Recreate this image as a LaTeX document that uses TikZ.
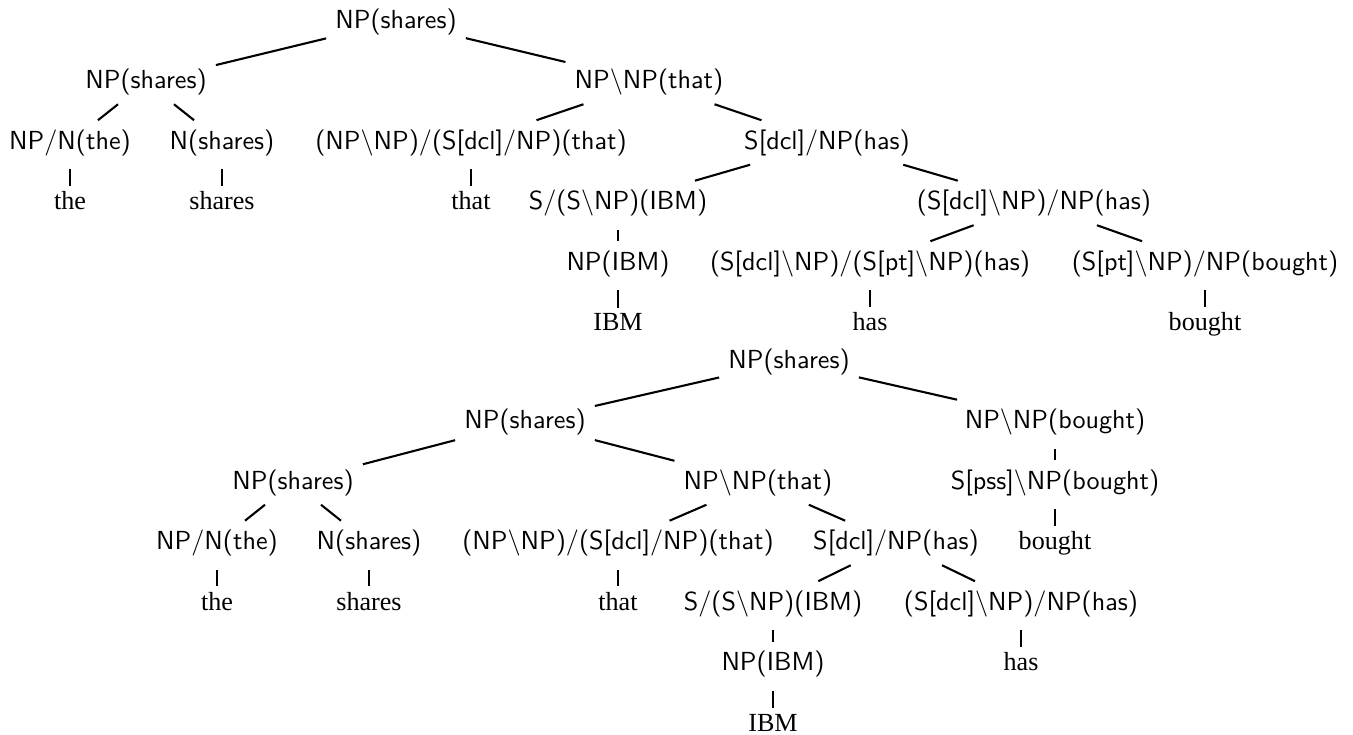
\documentclass[tikz,border=0pt]{standalone}
\usepackage{fontspec}
\setmainfont{Liberation Serif}
\usepackage{tikz}
\tikzset{
  catlabel/.style={font=\sffamily, anchor=base},
  leaf/.style={font=\rmfamily, anchor=base, inner sep=2pt},
  branch/.style={thick},
  unary/.style={thick, shorten <=1.8pt},
}
\newcommand{\bsl}{\textbackslash}

\begin{document}
\begin{tikzpicture}[x=0.383pt, y=-0.383pt]
\useasboundingbox (0,0) rectangle (1353,735);

% upper derivation
\node[catlabel] (a0) at (396,28) {NP(shares)};
\node[catlabel] (a1) at (146,88.5) {NP(shares)};
\node[catlabel] (a2) at (649,88.5) {NP\bsl NP(that)};
\node[catlabel] (a3) at (70,149) {NP/N(the)};
\node[catlabel] (a4) at (222,149) {N(shares)};
\node[catlabel] (a5) at (471,149) {(NP\bsl NP)/(S[dcl]/NP)(that)};
\node[catlabel] (a6) at (827,149) {S[dcl]/NP(has)};
\node[leaf] (a7) at (70,209.5) {the};
\node[leaf] (a8) at (222,209.5) {shares};
\node[leaf] (a9) at (471,209.5) {that};
\node[catlabel] (a10) at (618,209.5) {S/(S\bsl NP)(IBM)};
\node[catlabel] (a11) at (1034,209.5) {(S[dcl]\bsl NP)/NP(has)};
\node[catlabel] (a12) at (618,270) {NP(IBM)};
\node[catlabel] (a13) at (870,270) {(S[dcl]\bsl NP)/(S[pt]\bsl NP)(has)};
\node[catlabel] (a14) at (1205,270) {(S[pt]\bsl NP)/NP(bought)};
\node[leaf] (a15) at (618,330.5) {IBM};
\node[leaf] (a16) at (870,330.5) {has};
\node[leaf] (a17) at (1205,330.5) {bought};

\foreach \p/\c in {a0/a1, a0/a2, a1/a3, a1/a4, a2/a5, a2/a6, a6/a10, a6/a11,
    a11/a13, a11/a14}
  \draw[branch] (\p) -- (\c);
\foreach \p/\c in {a3/a7, a4/a8, a5/a9, a10/a12, a12/a15, a13/a16, a14/a17}
  \draw[unary] (\p) -- (\c);

% lower derivation
\node[catlabel] (b0) at (789,368) {NP(shares)};
\node[catlabel] (b1) at (525,428.5) {NP(shares)};
\node[catlabel] (b2) at (1055,428.5) {NP\bsl NP(bought)};
\node[catlabel] (b3) at (293,489) {NP(shares)};
\node[catlabel] (b4) at (758,489) {NP\bsl NP(that)};
\node[catlabel] (b5) at (1055,489) {S[pss]\bsl NP(bought)};
\node[catlabel] (b6) at (217,549.5) {NP/N(the)};
\node[catlabel] (b7) at (369,549.5) {N(shares)};
\node[catlabel] (b8) at (618,549.5) {(NP\bsl NP)/(S[dcl]/NP)(that)};
\node[catlabel] (b9) at (896,549.5) {S[dcl]/NP(has)};
\node[leaf] (b10) at (1055,549.5) {bought};
\node[leaf] (b11) at (217,610) {the};
\node[leaf] (b12) at (369,610) {shares};
\node[leaf] (b13) at (618,610) {that};
\node[catlabel] (b14) at (773,610) {S/(S\bsl NP)(IBM)};
\node[catlabel] (b15) at (1021,610) {(S[dcl]\bsl NP)/NP(has)};
\node[catlabel] (b16) at (773,670.5) {NP(IBM)};
\node[leaf] (b17) at (1021,670.5) {has};
\node[leaf] (b18) at (773,731) {IBM};

\foreach \p/\c in {b0/b1, b0/b2, b1/b3, b1/b4, b3/b6, b3/b7, b4/b8, b4/b9,
    b9/b14, b9/b15}
  \draw[branch] (\p) -- (\c);
\foreach \p/\c in {b2/b5, b5/b10, b6/b11, b7/b12, b8/b13, b14/b16, b15/b17, b16/b18}
  \draw[unary] (\p) -- (\c);
\end{tikzpicture}
\end{document}
